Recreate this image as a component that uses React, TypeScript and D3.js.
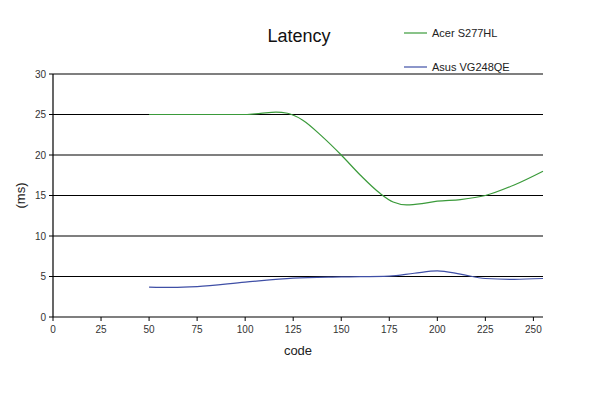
import React from "react";
import * as d3 from "d3";

// code values (x) and latency in ms
const acerCodes = [50, 75, 100, 108, 116, 122, 130, 140, 150, 160, 170, 177, 184, 192, 200, 212, 225, 240, 255];
const acerMs = [25.0, 25.0, 25.0, 25.15, 25.3, 25.15, 24.3, 22.3, 20.0, 17.5, 15.3, 14.2, 13.85, 14.0, 14.3, 14.5, 15.0, 16.3, 18.0];

const asusCodes = [50, 62, 75, 100, 125, 150, 175, 188, 200, 212, 225, 240, 255];
const asusMs = [3.7, 3.65, 3.75, 4.3, 4.8, 4.95, 5.05, 5.4, 5.7, 5.3, 4.75, 4.65, 4.75];

const xTicks = [0, 25, 50, 75, 100, 125, 150, 175, 200, 225, 250];
const yTicks = [0, 5, 10, 15, 20, 25, 30];

const seriesNames = ["Acer S277HL", "Asus VG248QE"];
const seriesColors = ["#3a9a3a", "#3f4fa6"];

const W = 596;
const H = 397;
const margin = { top: 74, right: 53, bottom: 80, left: 53 };

export default function App() {
  const w = W - margin.left - margin.right;
  const h = H - margin.top - margin.bottom;

  const x = d3.scaleLinear().domain([0, 255]).range([0, w]);
  const y = d3.scaleLinear().domain([0, 30]).range([h, 0]);

  const line = d3
    .line<[number, number]>()
    .x((d) => x(d[0]))
    .y((d) => y(d[1]))
    .curve(d3.curveMonotoneX);

  const acer = acerCodes.map((c, i) => [c, acerMs[i]] as [number, number]);
  const asus = asusCodes.map((c, i) => [c, asusMs[i]] as [number, number]);

  const font = "'Liberation Sans', Arial, sans-serif";

  return (
    <svg width={W} height={H} style={{ position: "absolute", left: 0, top: 0, background: "#fff" }}>
      <text x={299} y={42} textAnchor="middle" fontFamily={font} fontSize={18} fill="#111">
        Latency
      </text>

      {seriesNames.map((name, i) => (
        <g key={name} transform={`translate(404, ${33 + i * 34})`}>
          <line x1={0} x2={23} y1={0} y2={0} stroke={seriesColors[i]} strokeWidth={1.2} />
          <text x={28} y={4} fontFamily={font} fontSize={11} fill="#222">
            {name}
          </text>
        </g>
      ))}

      <g transform={`translate(${margin.left}, ${margin.top})`}>
        {yTicks.map((t) => (
          <g key={t}>
            <line x1={t === 0 ? 0 : 0} x2={w} y1={y(t)} y2={y(t)} stroke="#000" strokeWidth={1.2} />
            <line x1={-4} x2={0} y1={y(t)} y2={y(t)} stroke="#000" />
            <text x={-7} y={y(t) + 3.5} textAnchor="end" fontFamily={font} fontSize={10} fill="#333">
              {t}
            </text>
          </g>
        ))}
        <line x1={0} x2={0} y1={0} y2={h} stroke="#000" strokeWidth={1.2} />
        {xTicks.map((t) => (
          <g key={t}>
            <line x1={x(t)} x2={x(t)} y1={h} y2={h + 4} stroke="#000" />
            <text x={x(t)} y={h + 16} textAnchor="middle" fontFamily={font} fontSize={10} fill="#333">
              {t}
            </text>
          </g>
        ))}

        <path d={line(acer) || ""} fill="none" stroke={seriesColors[0]} strokeWidth={1.2} />
        <path d={line(asus) || ""} fill="none" stroke={seriesColors[1]} strokeWidth={1.2} />

        <text x={w / 2} y={h + 38} textAnchor="middle" fontFamily={font} fontSize={13} fill="#222">
          code
        </text>
        <text
          transform={`translate(-28, ${h / 2}) rotate(-90)`}
          textAnchor="middle"
          fontFamily={font}
          fontSize={13}
          fill="#222"
        >
          (ms)
        </text>
      </g>
    </svg>
  );
}
